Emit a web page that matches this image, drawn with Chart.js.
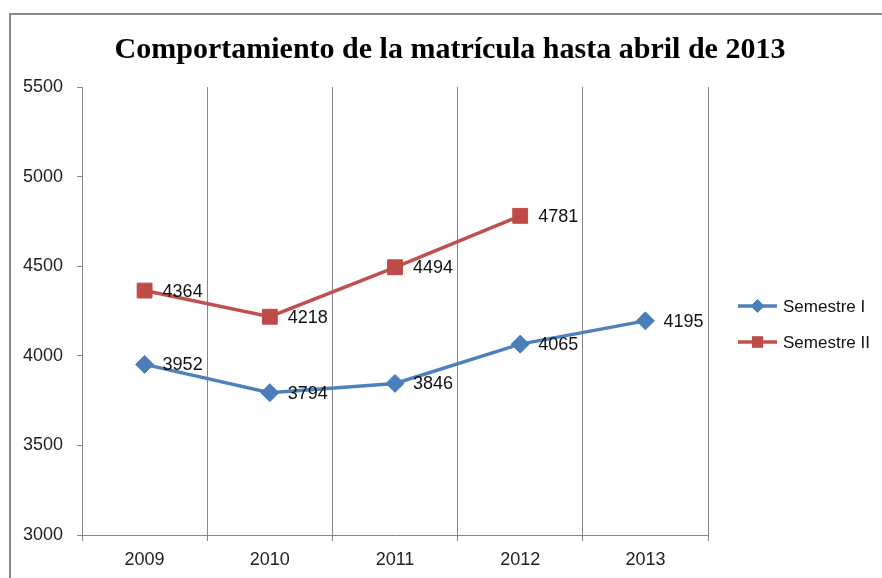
<!DOCTYPE html>
<html>
<head>
<meta charset="utf-8">
<script src="https://cdn.jsdelivr.net/npm/chart.js@4.4.0/dist/chart.umd.min.js"></script>
<style>
  html, body { margin: 0; padding: 0; background: #fff; }
  #wrap { position: relative; width: 882px; height: 578px; }
</style>
</head>
<body>
<div id="wrap"><canvas id="chart"></canvas></div>
<script>
// Chart data
const titleText = 'Comportamiento de la matrícula hasta abril de 2013';
const years = ['2009', '2010', '2011', '2012', '2013'];
const semestreI = [3952, 3794, 3846, 4065, 4195];
const semestreII = [4364, 4218, 4494, 4781, null];
const yTicks = [3000, 3500, 4000, 4500, 5000, 5500];

const gridGray = '#868686';
const labelFont = { family: 'Liberation Sans', size: 18 };

// Gray frame around the chart (only top and left edges are visible)
const framePlugin = {
    id: 'frame',
    beforeDraw(chart) {
        const ctx = chart.ctx;
        ctx.save();
        ctx.strokeStyle = '#8a8a8a';
        ctx.lineWidth = 2;
        ctx.strokeRect(10, 14, chart.width + 20, chart.height + 20);
        ctx.restore();
    }
};

// Title centred over the whole chart, not only the plot area
const titlePlugin = {
    id: 'centerTitle',
    afterDraw(chart) {
        const ctx = chart.ctx;
        ctx.save();
        ctx.font = 'bold 30px "Liberation Serif"';
        ctx.fillStyle = '#000';
        ctx.textAlign = 'center';
        ctx.textBaseline = 'alphabetic';
        ctx.fillText(titleText, 450, 58);
        ctx.restore();
    }
};

// Value labels to the right of each point
const valueLabels = {
    id: 'valueLabels',
    afterDatasetsDraw(chart) {
        const ctx = chart.ctx;
        ctx.save();
        ctx.font = labelFont.size + 'px ' + labelFont.family;
        ctx.fillStyle = '#111';
        ctx.textAlign = 'left';
        ctx.textBaseline = 'middle';
        chart.data.datasets.forEach(function (ds, i) {
            chart.getDatasetMeta(i).data.forEach(function (pt, j) {
                const v = ds.data[j];
                if (v === null || v === undefined) return;
                ctx.fillText(String(v), pt.x + 18, pt.y + 1);
            });
        });
        ctx.restore();
    }
};

// Excel-style legend: line with marker in the middle
const lineLegend = {
    id: 'lineLegend',
    afterDraw(chart) {
        const ctx = chart.ctx;
        const x0 = 738, x1 = 777, top = 306, gap = 36;
        ctx.save();
        chart.data.datasets.forEach(function (ds, i) {
            const y = top + i * gap;
            ctx.strokeStyle = ds.borderColor;
            ctx.lineWidth = ds.borderWidth;
            ctx.beginPath();
            ctx.moveTo(x0, y);
            ctx.lineTo(x1, y);
            ctx.stroke();
            ctx.fillStyle = ds.pointBackgroundColor;
            Chart.helpers.drawPoint(ctx, {
                pointStyle: ds.pointStyle,
                radius: ds.pointRadius * 0.75,
                borderWidth: 0
            }, (x0 + x1) / 2, y);
            ctx.fill();
            ctx.font = '17px ' + labelFont.family;
            ctx.fillStyle = '#111';
            ctx.textAlign = 'left';
            ctx.textBaseline = 'middle';
            ctx.fillText(ds.label, x1 + 6, y + 1);
        });
        ctx.restore();
    }
};

new Chart(document.getElementById('chart'), {
    type: 'line',
    data: {
        labels: years,
        datasets: [{
            label: 'Semestre I',
            data: semestreI,
            borderColor: '#4F81BD',
            backgroundColor: '#4A7EBB',
            pointBackgroundColor: '#4A7EBB',
            pointBorderColor: '#4A7EBB',
            borderWidth: 3.5,
            pointStyle: 'rectRot',
            pointRadius: 9,
            pointBorderWidth: 1,
            tension: 0
        }, {
            label: 'Semestre II',
            data: semestreII,
            borderColor: '#C0504D',
            backgroundColor: '#BE4B48',
            pointBackgroundColor: '#BE4B48',
            pointBorderColor: '#BE4B48',
            borderWidth: 3.5,
            pointStyle: 'rect',
            pointRadius: 10.5,
            pointBorderWidth: 1,
            tension: 0
        }]
    },
    options: {
        responsive: true,
        maintainAspectRatio: false,
        animation: false,
        layout: { padding: { left: 0, right: 174, top: 87, bottom: 0 } },
        plugins: {
            legend: { display: false },
            tooltip: { enabled: false },
            title: { display: false }
        },
        scales: {
            x: {
                offset: true,
                grid: {
                    offset: true,
                    color: gridGray,
                    lineWidth: 1,
                    drawOnChartArea: true,
                    tickLength: 6
                },
                border: { display: true, color: gridGray, width: 1 },
                ticks: { color: '#222', font: labelFont, padding: 8 },
                afterFit(scale) { scale.height = 43; }
            },
            y: {
                min: 3000,
                max: 5500,
                afterBuildTicks(scale) {
                    scale.ticks = yTicks.map(function (v) { return { value: v }; });
                },
                grid: {
                    drawOnChartArea: false,
                    color: gridGray,
                    tickLength: 5
                },
                border: { display: true, color: gridGray, width: 1 },
                ticks: {
                    color: '#222',
                    font: labelFont,
                    padding: 14,
                    callback: function (v) { return String(v); }
                },
                afterFit(scale) { scale.width = 82; }
            }
        }
    },
    plugins: [framePlugin, titlePlugin, valueLabels, lineLegend]
});
</script>
</body>
</html>
